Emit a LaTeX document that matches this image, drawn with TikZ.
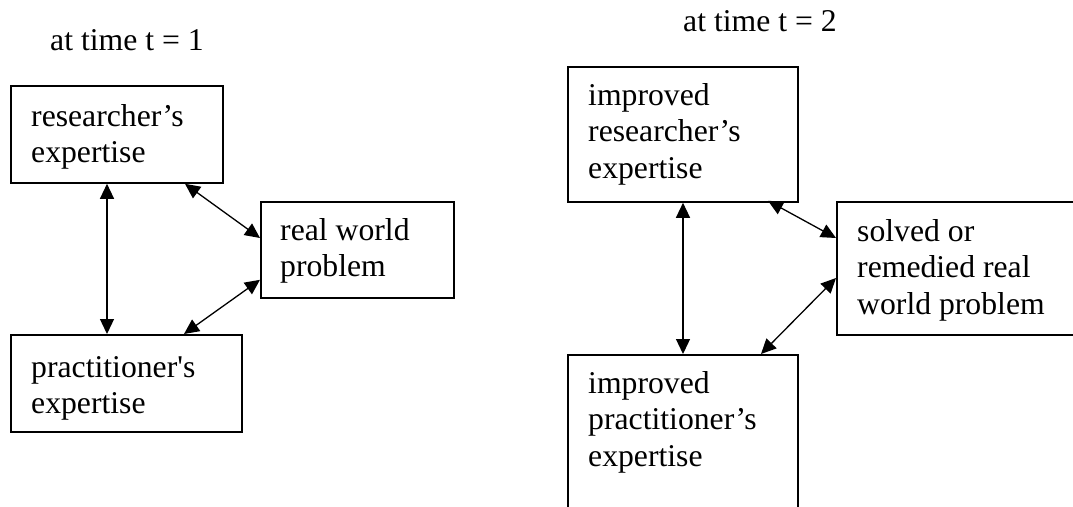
\documentclass[tikz,border=0pt]{standalone}
\usepackage{fontspec}
% no TeX ligature mapping, so a typed ' stays a straight apostrophe
\setmainfont{Liberation Serif}[Ligatures=TeXOff]
\usetikzlibrary{arrows.meta}

\begin{document}
\begin{tikzpicture}[x=1pt,y=-1pt,
  panel/.style={draw=black, line width=1.8pt, rectangle, inner sep=0pt, anchor=north west},
  words/.style={anchor=base west, inner sep=0pt, font=\fontsize{31.7}{36.6}\selectfont},
  link/.style={line width=1.3pt, {Triangle[length=15pt,width=14pt]}-{Triangle[length=15pt,width=14pt]}}
]
\clip (0,0) rectangle (1073,506);
\fill[white] (0,0) rectangle (1073,506);

% ---------- situation at t = 1 ----------
\node[words] (titleA) at (50,50) {at time t = 1};

\node[panel, minimum width=212pt, minimum height=97pt] (res) at (10,85) {};
\node[words] (resT) at (31,126) {\vtop{\hbox{researcher’s}\hbox{expertise}}};

\node[panel, minimum width=193pt, minimum height=96pt] (prob) at (260,201) {};
\node[words] (probT) at (280,240) {\vtop{\hbox{real world}\hbox{problem}}};

\node[panel, minimum width=231pt, minimum height=97pt] (prac) at (10,334) {};
\node[words] (pracT) at (31,377) {\vtop{\hbox{practitioner's}\hbox{expertise}}};

\draw[link] ([xshift=97pt]res.south west) -- ([xshift=97pt]prac.north west);
\draw[link] ([xshift=175pt]res.south west) -- ([yshift=-37pt]prob.north west);
\draw[link] ([yshift=19pt]prob.south west) -- ([xshift=174pt]prac.north west);

% ---------- situation at t = 2 ----------
\node[words] (titleB) at (683,31) {at time t = 2};

\node[panel, minimum width=230pt, minimum height=135pt] (ires) at (567,66) {};
\node[words] (iresT) at (588,105) {\vtop{\hbox{improved}\hbox{researcher’s}\hbox{expertise}}};

\node[panel, minimum width=260pt, minimum height=133pt] (solved) at (836,201) {};
\node[words] (solvedT) at (857,241) {\vtop{\hbox{solved or}\hbox{remedied real}\hbox{world problem}}};

\node[panel, minimum width=230pt, minimum height=200pt] (iprac) at (567,354) {};
\node[words] (ipracT) at (588,393) {\vtop{\hbox{improved}\hbox{practitioner’s}\hbox{expertise}}};

\draw[link] ([xshift=116pt]ires.south west) -- ([xshift=116pt]iprac.north west);
\draw[link] ([xshift=201pt,yshift=2pt]ires.south west) -- ([yshift=-37pt]solved.north west);
\draw[link] ([yshift=-77pt]solved.north west) -- ([xshift=194pt]iprac.north west);
\end{tikzpicture}
\end{document}
